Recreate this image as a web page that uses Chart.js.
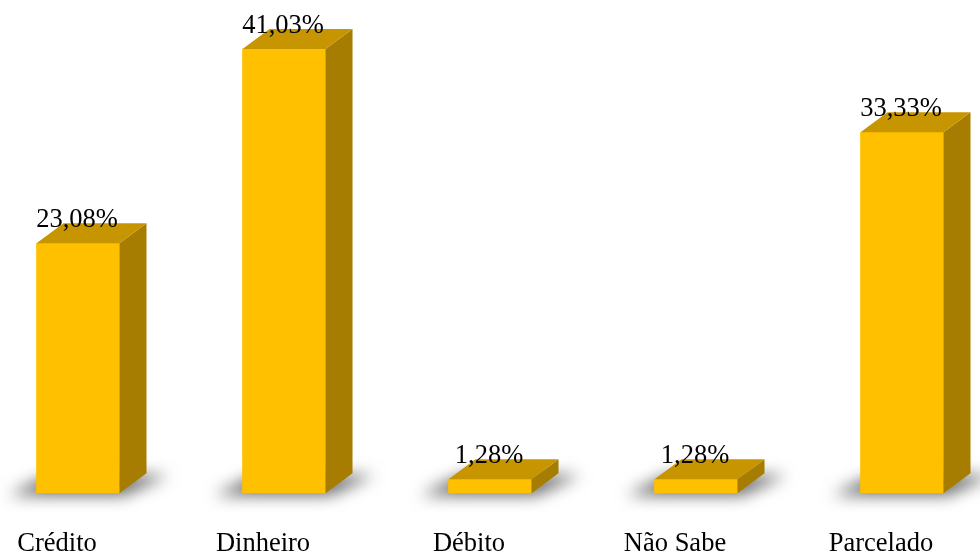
<!DOCTYPE html>
<html>
<head>
<meta charset="utf-8">
<script src="https://cdn.jsdelivr.net/npm/chart.js@4"></script>
<style>
  html, body { margin: 0; padding: 0; background: #fff; }
  #stage { position: relative; width: 980px; height: 552px; overflow: hidden; }
  #wrap { position: absolute; left: -25px; top: 0; width: 1030px; height: 595px; }
</style>
</head>
<body>
<div id="stage">
  <div id="wrap"><canvas id="chart"></canvas></div>
</div>
<script>
const categories = ['Crédito', 'Dinheiro', 'Débito', 'Não Sabe', 'Parcelado'];
const percentages = [23.08, 41.03, 1.28, 1.28, 33.33];
const valueLabels = ['23,08%', '41,03%', '1,28%', '1,28%', '33,33%'];

const depthX = 27;
const depthY = 20;

// draws the shadow, side and top of every bar so it looks like a box
const bar3d = {
    id: 'bar3d',
    beforeDatasetsDraw(chart) {
        const ctx = chart.ctx;
        const meta = chart.getDatasetMeta(0);
        meta.data.forEach(bar => {
            const left = bar.x - bar.width / 2;
            const right = bar.x + bar.width / 2;
            const base = bar.base;
            ctx.save();
            ctx.shadowColor = 'rgba(0,0,0,0.6)';
            ctx.shadowBlur = 16;
            ctx.shadowOffsetX = 3000;
            ctx.fillStyle = '#000';
            ctx.beginPath();
            ctx.moveTo(left - 28 - 3000, base + 2);
            ctx.lineTo(right + 4 - 3000, base + 2);
            ctx.lineTo(right + depthX + 22 - 3000, base - depthY + 2);
            ctx.lineTo(left + depthX - 14 - 3000, base - depthY + 2);
            ctx.closePath();
            ctx.fill();
            ctx.restore();
        });
    },
    afterDatasetsDraw(chart) {
        const ctx = chart.ctx;
        const meta = chart.getDatasetMeta(0);
        meta.data.forEach((bar, i) => {
            const left = bar.x - bar.width / 2;
            const right = bar.x + bar.width / 2;
            const top = bar.y;
            const base = bar.base;
            ctx.save();
            // side
            ctx.fillStyle = '#A67D00';
            ctx.beginPath();
            ctx.moveTo(right, top);
            ctx.lineTo(right + depthX, top - depthY);
            ctx.lineTo(right + depthX, base - depthY);
            ctx.lineTo(right, base);
            ctx.closePath();
            ctx.fill();
            // top
            ctx.fillStyle = '#C79500';
            ctx.beginPath();
            ctx.moveTo(left, top);
            ctx.lineTo(left + depthX, top - depthY);
            ctx.lineTo(right + depthX, top - depthY);
            ctx.lineTo(right, top);
            ctx.closePath();
            ctx.fill();
            // value label
            ctx.fillStyle = '#000';
            ctx.font = '26.5px "Liberation Serif"';
            ctx.textAlign = 'center';
            ctx.textBaseline = 'alphabetic';
            ctx.fillText(valueLabels[i], bar.x - 1, top - 16);
            ctx.restore();
        });
    }
};

const ctx = document.getElementById('chart').getContext('2d');
const chart = new Chart(ctx, {
    type: 'bar',
    data: {
        labels: categories,
        datasets: [{
            data: percentages,
            backgroundColor: '#FFC000',
            borderWidth: 0,
            barThickness: 83
        }]
    },
    options: {
        responsive: true,
        maintainAspectRatio: false,
        animation: false,
        layout: { padding: { top: 6, left: 0, right: 0, bottom: 0 } },
        plugins: {
            legend: { display: false },
            tooltip: { enabled: false }
        },
        scales: {
            x: {
                grid: { display: false, drawTicks: false },
                border: { display: false },
                ticks: {
                    color: '#000',
                    font: { family: 'Liberation Serif', size: 26.5 },
                    padding: 35,
                    labelOffset: -21,
                    maxRotation: 0,
                    autoSkip: false
                }
            },
            y: {
                display: false,
                min: 0,
                max: 45
            }
        }
    },
    plugins: [bar3d]
});
</script>
</body>
</html>
